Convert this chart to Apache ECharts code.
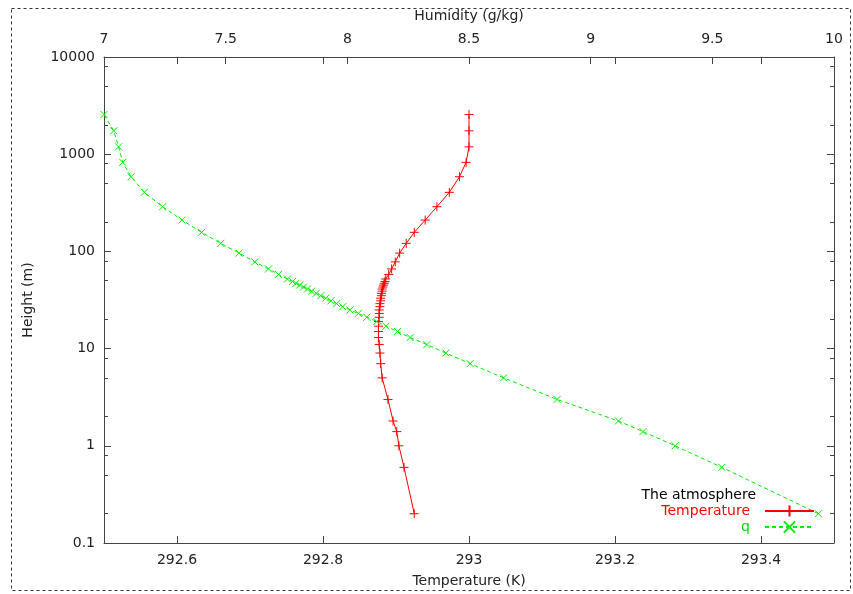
<!DOCTYPE html>
<html>
<head>
<meta charset="utf-8">
<title>The atmosphere</title>
<script src="https://cdn.jsdelivr.net/npm/echarts@6/dist/echarts.min.js"></script>
<style>
  html, body { margin: 0; padding: 0; background: #fff; }
  #chart { width: 853px; height: 594px; }
</style>
</head>
<body>
<div id="chart"></div>
<script>
// model levels (m)
var heights = [0.2, 0.6, 1.0, 1.4, 1.8, 3, 5, 7, 9, 11, 13, 15, 17, 19, 21, 23, 25, 27, 29, 31,
  33, 35, 37, 39, 41, 43, 45, 47, 49, 52, 58, 66, 78, 96, 121, 157, 210, 288, 405, 586, 824, 1190, 1740, 2560];
// temperature (K) at each level
var temperature = [292.925, 292.911, 292.904, 292.901, 292.896, 292.889, 292.881, 292.879, 292.878, 292.877,
  292.876, 292.876, 292.876, 292.876, 292.877, 292.877, 292.877, 292.878, 292.878, 292.879,
  292.879, 292.880, 292.880, 292.881, 292.881, 292.882, 292.883, 292.884, 292.885, 292.886,
  292.890, 292.894, 292.899, 292.905, 292.914, 292.925, 292.940, 292.956, 292.973, 292.987,
  292.996, 293.000, 293.000, 293.000];
// specific humidity q (g/kg) at each level
var humidity = [9.936, 9.539, 9.347, 9.215, 9.114, 8.862, 8.642, 8.505, 8.405, 8.327,
  8.258, 8.206, 8.159, 8.121, 8.080, 8.045, 8.011, 7.981, 7.956, 7.933,
  7.911, 7.891, 7.872, 7.853, 7.836, 7.820, 7.804, 7.789, 7.775, 7.754,
  7.717, 7.676, 7.620, 7.555, 7.480, 7.401, 7.321, 7.241, 7.166, 7.111,
  7.077, 7.060, 7.040, 7.000];

// tick labels
var tempTicks = [292.6, 292.8, 293, 293.2, 293.4];
var heightMinorTicks = [0.2, 0.5, 0.8, 2, 5, 8, 20, 50, 80, 200, 500, 800, 2000, 5000, 8000];

var font = 'DejaVu Sans';
var ink = '#222';
var axisColor = '#444';

var tempData = heights.map(function (h, i) { return [temperature[i], h]; });
var humData = heights.map(function (h, i) { return [humidity[i], h]; });
var minorLog = heightMinorTicks.map(function (v) { return Math.log10(v); });

var myChart = echarts.init(document.getElementById('chart'), null, { renderer: 'canvas' });

var majorTick = { show: true, inside: true, length: 7, lineStyle: { color: axisColor, width: 1 } };
var minorTick = { show: true, inside: true, length: 4, customValues: minorLog, lineStyle: { color: axisColor, width: 1 } };
var noLabel = { show: false };
var noSplit = { show: false };

var option = {
  animation: false,
  backgroundColor: '#fff',
  grid: { left: 104, top: 57, width: 730, height: 486, outerBoundsMode: 'none', containLabel: false },
  xAxis: [
    {
      // bottom: temperature
      type: 'value', position: 'bottom', min: 292.5, max: 293.5,
      name: 'Temperature (K)', nameLocation: 'middle', nameGap: 31,
      nameTextStyle: { color: ink, fontFamily: font, fontSize: 14 },
      axisLine: { show: true, onZero: false, lineStyle: { color: axisColor, width: 1 } },
      axisTick: Object.assign({ customValues: tempTicks }, majorTick),
      axisLabel: { customValues: tempTicks, color: ink, fontFamily: font, fontSize: 14, margin: 10 },
      splitLine: noSplit
    },
    {
      // top: humidity
      type: 'value', position: 'top', min: 7, max: 10, interval: 0.5,
      name: 'Humidity (g/kg)', nameLocation: 'middle', nameGap: 34,
      nameTextStyle: { color: ink, fontFamily: font, fontSize: 14 },
      axisLine: { show: true, onZero: false, lineStyle: { color: axisColor, width: 1 } },
      axisTick: majorTick,
      axisLabel: { color: ink, fontFamily: font, fontSize: 14, margin: 11, showMinLabel: true, showMaxLabel: true },
      splitLine: noSplit
    },
    {
      // mirrored temperature ticks on top
      type: 'value', position: 'top', min: 292.5, max: 293.5,
      axisLine: { show: false, onZero: false },
      axisTick: Object.assign({ customValues: tempTicks }, majorTick),
      axisLabel: noLabel, splitLine: noSplit
    }
  ],
  yAxis: [
    {
      type: 'log', logBase: 10, position: 'left', min: 0.1, max: 10000,
      name: 'Height (m)', nameLocation: 'middle', nameGap: 69, nameRotate: 90,
      nameTextStyle: { color: ink, fontFamily: font, fontSize: 14 },
      axisLine: { show: true, onZero: false, lineStyle: { color: axisColor, width: 1 } },
      axisTick: majorTick,
      axisLabel: {
        color: ink, fontFamily: font, fontSize: 14, margin: 9,
        formatter: function (v) { return String(+v.toPrecision(4)); }
      },
      splitLine: noSplit
    },
    {
      type: 'value', position: 'left', min: -1, max: 4,
      axisLine: { show: false, onZero: false },
      axisTick: minorTick, axisLabel: noLabel, splitLine: noSplit
    },
    {
      type: 'log', logBase: 10, position: 'right', min: 0.1, max: 10000,
      axisLine: { show: true, onZero: false, lineStyle: { color: axisColor, width: 1 } },
      axisTick: majorTick, axisLabel: noLabel, splitLine: noSplit
    },
    {
      type: 'value', position: 'right', min: -1, max: 4,
      axisLine: { show: false, onZero: false },
      axisTick: minorTick, axisLabel: noLabel, splitLine: noSplit
    }
  ],
  legend: [
    {
      right: 38, top: 504, padding: 0, orient: 'horizontal', align: 'right', selectedMode: false,
      itemWidth: 49, itemHeight: 14,
      textStyle: { fontFamily: font, fontSize: 14, padding: [0, 10, 0, 0] },
      data: [{ name: 'Temperature', textStyle: { color: '#ff0000' } }]
    },
    {
      right: 38, top: 520, padding: 0, orient: 'horizontal', align: 'right', selectedMode: false,
      itemWidth: 49, itemHeight: 14,
      textStyle: { fontFamily: font, fontSize: 14, padding: [0, 10, 0, 0] },
      data: [{ name: 'q', textStyle: { color: '#00dd00' } }]
    }
  ],
  graphic: [
    {
      type: 'rect', left: 9, top: 6, silent: true,
      shape: { width: 839, height: 582 },
      style: { fill: 'none', stroke: '#333', lineWidth: 1, lineDash: [3, 3] }
    },
    {
      type: 'text', right: 97, top: 488, silent: true,
      style: { text: 'The atmosphere', fill: '#000', font: '14px "DejaVu Sans"' }
    }
  ],
  series: [
    {
      name: 'Temperature', type: 'line', xAxisIndex: 0, yAxisIndex: 0,
      data: tempData, clip: false, showAllSymbol: true,
      symbol: 'path://M0,5L10,5M5,0L5,10', symbolSize: 9,
      itemStyle: { color: '#ff0000', borderColor: '#ff0000', borderWidth: 1 },
      lineStyle: { color: '#ff0000', width: 1 }
    },
    {
      name: 'q', type: 'line', xAxisIndex: 1, yAxisIndex: 0,
      data: humData, clip: false, showAllSymbol: true,
      symbol: 'path://M0,0L10,10M10,0L0,10', symbolSize: 7,
      itemStyle: { color: '#00ee00', borderColor: '#00ee00', borderWidth: 1 },
      lineStyle: { color: '#00ee00', width: 1, type: [4, 3] }
    }
  ]
};

myChart.setOption(option);
</script>
</body>
</html>
